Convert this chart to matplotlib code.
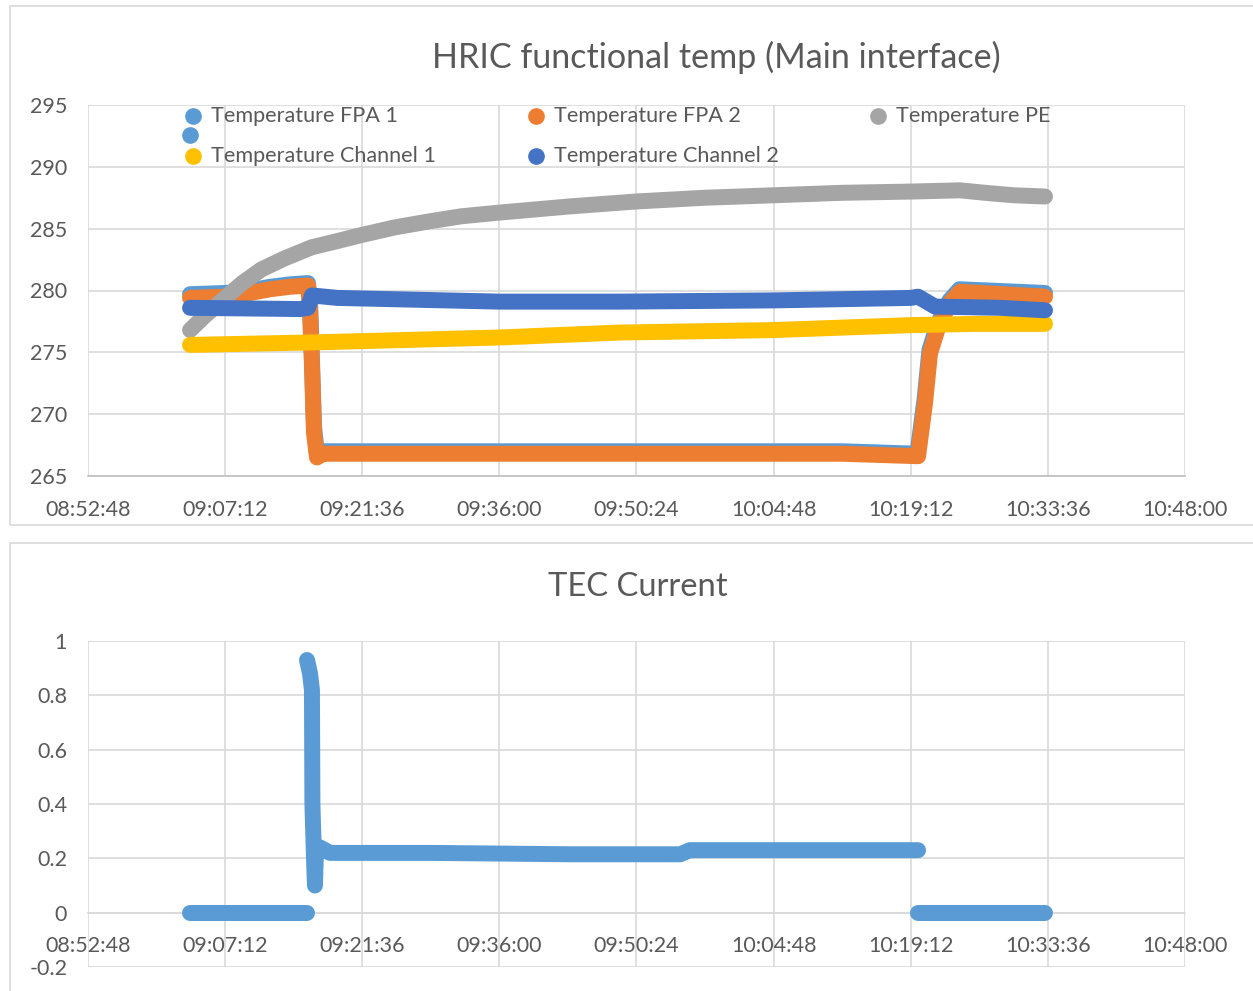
import matplotlib
matplotlib.use("Agg")
import matplotlib.pyplot as plt
from matplotlib.patches import Rectangle
from matplotlib.ticker import FuncFormatter, MultipleLocator

plt.rcParams['font.family'] = ['Lato', 'DejaVu Sans']

# ---- data (times of day, temperatures in K) ----
fpa1_t = ["09:03:31", "09:07:12", "09:09:49", "09:11:55", "09:14:01", "09:15:54",
          "09:16:07", "09:16:19", "09:16:32", "09:16:51", "09:17:30", "09:28:43",
          "09:43:25", "09:57:50", "10:12:00", "10:19:54", "10:20:39", "10:21:10",
          "10:22:01", "10:23:16", "10:24:19", "10:33:18"]
fpa1_v = [279.7, 279.8, 280.0, 280.3, 280.5, 280.6,
          279.0, 274.5, 269.0, 266.8, 267.0, 267.0,
          267.0, 267.0, 267.0, 266.8, 271.2, 275.2,
          277.3, 279.2, 280.1, 279.8]

fpa2_t = ["09:03:31", "09:07:12", "09:09:49", "09:11:55", "09:14:01", "09:15:54",
          "09:16:07", "09:16:19", "09:16:32", "09:16:51", "09:17:30", "09:28:43",
          "09:43:25", "09:57:50", "10:12:00", "10:19:58", "10:20:42", "10:21:13",
          "10:22:04", "10:23:19", "10:24:22", "10:33:18"]
fpa2_v = [279.4, 279.5, 279.8, 280.1, 280.3, 280.4,
          278.5, 274.0, 268.5, 266.5, 266.8, 266.8,
          266.8, 266.8, 266.8, 266.6, 270.9, 274.9,
          277.0, 279.0, 279.9, 279.5]

pe_t = ["09:03:31", "09:05:00", "09:07:12", "09:09:00", "09:11:00", "09:13:27",
        "09:16:19", "09:19:00", "09:21:36", "09:25:00", "09:28:43", "09:32:00",
        "09:36:00", "09:43:25", "09:50:24", "09:57:36", "10:04:48", "10:12:00",
        "10:19:12", "10:24:22", "10:27:00", "10:30:00", "10:33:18"]
pe_v = [276.8, 277.9, 279.4, 280.6, 281.7, 282.6,
        283.5, 284.0, 284.5, 285.1, 285.6, 286.0,
        286.3, 286.8, 287.2, 287.5, 287.7, 287.9,
        288.0, 288.1, 287.9, 287.7, 287.6]

ch1_t = ["09:03:31", "09:16:19", "09:36:00", "09:48:40", "10:04:48", "10:19:12",
         "10:26:00", "10:33:18"]
ch1_v = [275.6, 275.8, 276.2, 276.6, 276.8, 277.2, 277.3, 277.3]

ch2_t = ["09:03:31", "09:15:04", "09:15:54", "09:16:19", "09:19:00", "09:36:00",
         "09:48:40", "10:04:48", "10:19:12", "10:19:58", "10:21:45", "10:28:34",
         "10:33:18"]
ch2_v = [278.6, 278.5, 278.6, 279.6, 279.4, 279.1,
         279.1, 279.2, 279.4, 279.5, 278.7, 278.6,
         278.4]

# TEC current (A), three separate runs of points
tec_off1_t = ["09:03:31", "09:15:48"]
tec_off1_v = [0.0, 0.0]
tec_on_t = ["09:15:48", "09:16:07", "09:16:19", "09:16:22", "09:16:32", "09:16:38",
            "09:16:45", "09:17:10", "09:18:13", "09:28:43", "09:43:25", "09:50:24",
            "09:55:00", "09:56:00", "10:04:48", "10:12:00", "10:19:58"]
tec_on_v = [0.93, 0.88, 0.82, 0.40, 0.20, 0.10,
            0.24, 0.24, 0.22, 0.22, 0.215, 0.215,
            0.215, 0.23, 0.23, 0.23, 0.23]
tec_off2_t = ["10:19:58", "10:33:18"]
tec_off2_v = [0.0, 0.0]

x_start = "08:52:48"
x_end = "10:48:00"
x_step = 864  # 14:24 between ticks


def secs(t):
    h, m, s = map(int, t.split(':'))
    return h * 3600 + m * 60 + s


def hms(v, pos=None):
    v = int(round(v))
    return "%02d:%02d:%02d" % (v // 3600, (v % 3600) // 60, v % 60)


TXT = '#595959'
GRID = '#D9D9D9'
W, H = 1253, 991

fig = plt.figure(figsize=(W / 100, H / 100), dpi=100)


def px(x0, y0, x1, y1):
    return [x0 / W, 1 - y1 / H, (x1 - x0) / W, (y1 - y0) / H]


# chart frames
for (x0, y0, x1, y1) in [(10, 6, 1270, 525), (10, 543, 1270, 1010)]:
    fig.patches.append(Rectangle((x0 / W, 1 - y1 / H), (x1 - x0) / W, (y1 - y0) / H,
                                 transform=fig.transFigure, fill=False,
                                 edgecolor=GRID, lw=1.2))

ax1 = fig.add_axes(px(88, 105, 1185, 476))
ax2 = fig.add_axes(px(88, 641, 1185, 967))

lw = 11.5
style = dict(lw=lw, solid_capstyle='round', solid_joinstyle='round')

series = [(fpa1_t, fpa1_v, '#5B9BD5'), (fpa2_t, fpa2_v, '#ED7D31'),
          (pe_t, pe_v, '#A5A5A5'), (ch1_t, ch1_v, '#FFC000'),
          (ch2_t, ch2_v, '#4472C4')]
for i, (t, v, c) in enumerate(series):
    ax1.plot([secs(s) for s in t], v, color=c, zorder=3 + i, **style)

for t, v in [(tec_off1_t, tec_off1_v), (tec_on_t, tec_on_v), (tec_off2_t, tec_off2_v)]:
    ax2.plot([secs(s) for s in t], v, color='#5B9BD5', zorder=3, **style)

for ax in (ax1, ax2):
    ax.set_xlim(secs(x_start), secs(x_end))
    ax.xaxis.set_major_locator(MultipleLocator(x_step))
    ax.xaxis.set_major_formatter(FuncFormatter(hms))
    ax.grid(True, color=GRID, lw=1.2, zorder=0)
    ax.set_axisbelow(True)
    for s in ('top', 'right', 'left'):
        ax.spines[s].set_visible(False)
    ax.spines['bottom'].set_color('#BFBFBF')
    ax.spines['bottom'].set_linewidth(1.2)
    ax.tick_params(length=0, labelsize=15.5, colors=TXT)
    ax.tick_params(axis='x', pad=17)
    ax.tick_params(axis='y', pad=15)

ax1.set_ylim(265, 295)
ax1.yaxis.set_major_locator(MultipleLocator(5))

ax2.set_ylim(-0.2, 1.0)
ax2.yaxis.set_major_locator(MultipleLocator(0.2))
ax2.yaxis.set_major_formatter(FuncFormatter(lambda v, p: "%g" % round(v, 1)))
ax2.spines['bottom'].set_position(('data', 0))
ax2.spines['bottom'].set_color(GRID)

# titles
fig.text(716 / W, 1 - 57 / H, "HRIC functional temp (Main interface)",
         ha='center', va='center', fontsize=24.6, color=TXT)
fig.text(638 / W, 1 - 587 / H, "TEC Current",
         ha='center', va='center', fontsize=23.6, color=TXT)

# legend of the top chart, laid out as in the picture
legend_items = [("Temperature FPA 1", '#5B9BD5', 193, 116),
                ("Temperature FPA 2", '#ED7D31', 536, 116),
                ("Temperature PE", '#A5A5A5', 878, 116),
                ("", '#5B9BD5', 190, 135),
                ("Temperature Channel 1", '#FFC000', 193, 156),
                ("Temperature Channel 2", '#4472C4', 536, 156)]
for label, c, lx, ly in legend_items:
    fig.lines.append(plt.Line2D([lx / W], [1 - ly / H], marker='o', ms=11,
                                color=c, transform=fig.transFigure))
    if label:
        fig.text((lx + 18) / W, 1 - ly / H, label, ha='left', va='center',
                 fontsize=15.6, color=TXT)

fig.savefig("out.png", dpi=100)
